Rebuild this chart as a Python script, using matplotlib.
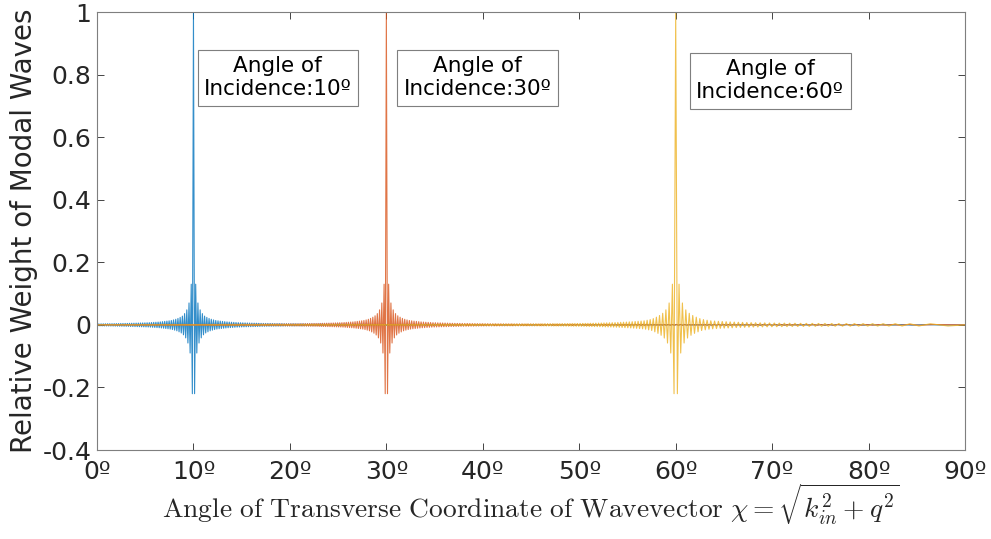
"""
Relative weight of modal waves versus transverse wavevector angle
for three angles of incidence (10, 30 and 60 degrees).
"""

import numpy as np
import matplotlib
matplotlib.use("Agg")
import matplotlib.pyplot as plt

# ----------------------------------------------------------
# 1. Data
# ----------------------------------------------------------
incidence_deg = [10, 30, 60]
series_colors = ["#0072BD", "#D95319", "#EDB120"]
box_labels = ["Angle of\nIncidence:10º", "Angle of\nIncidence:30º", "Angle of\nIncidence:60º"]

# spacing of the lobe extrema in sin(angle)
lobe_step = [0.00198, 0.00178, 0.00150]

# weight at the central peak of each series
peak_weight = [1.0, 1.0, 1.0]

# magnitude of the lobe extrema, indexed by lobe number from the peak
lobe_index = [1, 2, 3, 4, 5, 6, 8, 10, 15, 20, 30, 40, 60, 80, 120, 200, 300, 600]
lobe_amp_10 = [0.22, 0.13, 0.09, 0.07, 0.058, 0.048, 0.036, 0.028, 0.019, 0.014,
               0.0095, 0.007, 0.0048, 0.0036, 0.0025, 0.0015, 0.001, 0.0005]
lobe_amp_30 = [0.22, 0.13, 0.09, 0.07, 0.058, 0.048, 0.036, 0.029, 0.019, 0.014,
               0.0095, 0.007, 0.0048, 0.0036, 0.0025, 0.0015, 0.001, 0.0005]
lobe_amp_60 = [0.22, 0.13, 0.09, 0.07, 0.058, 0.048, 0.037, 0.030, 0.018, 0.013,
               0.0095, 0.0072, 0.005, 0.0038, 0.0026, 0.0016, 0.001, 0.0005]
lobe_amps = [lobe_amp_10, lobe_amp_30, lobe_amp_60]

x_ticks = [0, 10, 20, 30, 40, 50, 60, 70, 80, 90]
x_ticklabels = ["0º", "10º", "20º", "30º", "40º", "50º", "60º", "70º", "80º", "90º"]
y_ticks = [-0.4, -0.2, 0, 0.2, 0.4, 0.6, 0.8, 1]
y_ticklabels = ["-0.4", "-0.2", "0", "0.2", "0.4", "0.6", "0.8", "1"]

# text box anchors (angle, weight)
box_pos = [(18.75, 0.79), (39.45, 0.79), (69.8, 0.78)]


def modal_weights(center_deg, step, peak, amps):
    """Lobe extrema of one series, placed evenly in sin(angle)."""
    s0 = np.sin(np.radians(center_deg))
    k_lo = -int(np.floor(s0 / step))
    k_hi = int(np.floor((1.0 - s0) / step))
    k = np.arange(k_lo, k_hi + 1)
    s = np.clip(s0 + k * step, 0.0, 1.0)
    ang = np.degrees(np.arcsin(s))
    mag = np.interp(np.log(np.abs(k) + 1e-9), np.log(lobe_index), amps)
    w = np.where(k % 2 == 0, 1.0, -1.0) * mag
    w[k == 0] = peak
    # tie the ends down to the axis limits
    ang = np.concatenate([[0.0], ang, [90.0]])
    w = np.concatenate([[0.0], w, [0.0]])
    return ang, w


# ----------------------------------------------------------
# 2. Plot
# ----------------------------------------------------------
plt.rcParams['font.family'] = ['DejaVu Sans']
plt.rcParams['mathtext.fontset'] = 'cm'
plt.rcParams['axes.unicode_minus'] = False

fig = plt.figure(figsize=(9.91, 5.39), dpi=100)
ax = fig.add_axes([0.0979, 0.1651, 0.8759, 0.8126])

for c, st, pk, amps, col in zip(incidence_deg, lobe_step, peak_weight, lobe_amps, series_colors):
    ang, w = modal_weights(c, st, pk, amps)
    ax.plot(ang, w, color=col, lw=0.8, alpha=0.8)

for (bx, by), txt in zip(box_pos, box_labels):
    ax.text(bx, by, txt, ha='center', va='center', fontsize=15.5, color='black',
            linespacing=1.2,
            bbox=dict(boxstyle='square,pad=0.3', fc='white', ec='#7f7f7f', lw=0.8))

ax.set_xlim(0, 90)
ax.set_ylim(-0.4, 1)
ax.set_xticks(x_ticks)
ax.set_xticklabels(x_ticklabels)
ax.set_yticks(y_ticks)
ax.set_yticklabels(y_ticklabels)
ax.tick_params(direction='in', top=True, right=True, labelsize=18,
               colors='#262626', length=5, width=0.6)
ax.tick_params(axis='x', pad=7)
ax.tick_params(axis='y', pad=4)
for sp in ax.spines.values():
    sp.set_color('#7f7f7f')
    sp.set_linewidth(0.8)

ax.set_ylabel("Relative Weight of Modal Waves", fontsize=20, color='#262626', labelpad=3)
ax.set_xlabel(r"$\mathrm{Angle\ of\ Transverse\ Coordinate\ of\ Wavevector}\ \chi = \sqrt{k_{in}^2 + q^2}$",
              fontsize=19.8, color='#262626', labelpad=-1)

fig.savefig("out.png", dpi=100)
